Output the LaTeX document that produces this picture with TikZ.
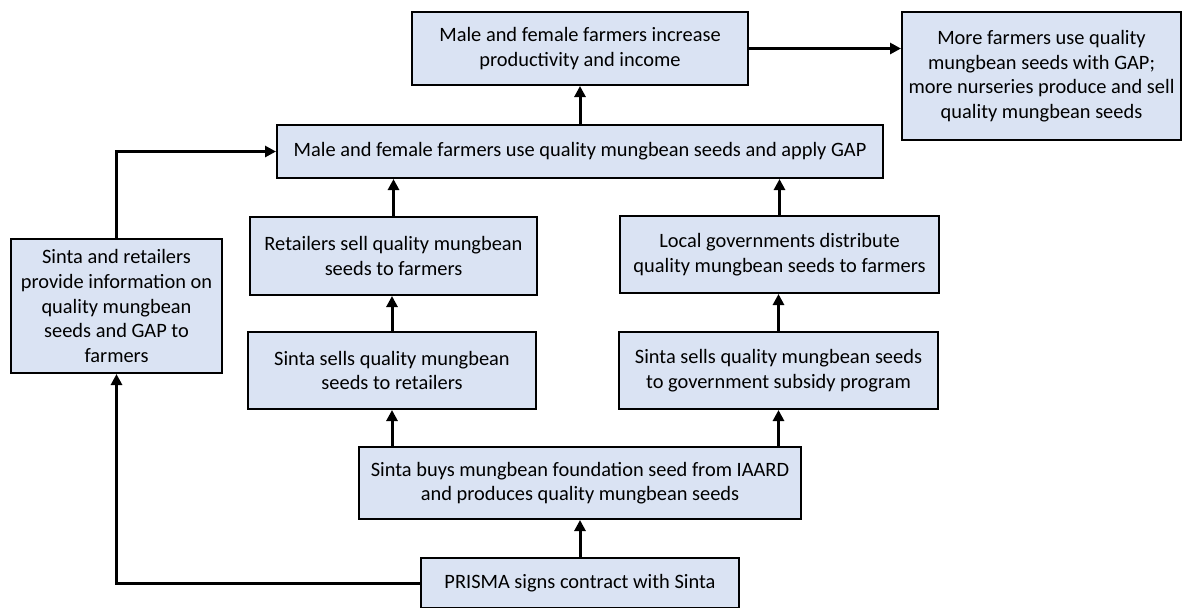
\documentclass[tikz,border=0pt]{standalone}
\usepackage{fontspec}
\setmainfont{Carlito}
\usetikzlibrary{arrows.meta,calc}
\definecolor{tcInk}{HTML}{000000}
\definecolor{tcFill}{HTML}{DAE3F3}
\tikzset{
  stage/.style ={draw=tcInk,line width=1pt,fill=tcFill,inner sep=0pt,
                 align=center,font=\fontsize{10.2pt}{12.3pt}\selectfont},
  link/.style  ={-{Triangle[length=5.5pt,width=5.5pt]},tcInk,line width=1.5pt},
}
\begin{document}
\begin{tikzpicture}[x=0.5pt,y=-0.5pt]
\useasboundingbox (0,0) rectangle (1184,607);
% outcome row
\node[stage,minimum width=168pt,minimum height=36.5pt] (incr) at (580,48.5)
  {Male and female farmers increase\\productivity and income};
\node[stage,minimum width=139.5pt,minimum height=64pt] (more) at (1041.5,76)
  {More farmers use quality\\mungbean seeds with GAP;\\more nurseries produce and sell\\quality mungbean seeds};
\node[stage,minimum width=303pt,minimum height=26.5pt] (use) at (580,151.5)
  {Male and female farmers use quality mungbean seeds and apply GAP};
% two channels
\node[stage,minimum width=143.5pt,minimum height=39pt] (retail) at (393.5,256)
  {Retailers sell quality mungbean\\seeds to farmers};
\node[stage,minimum width=159.5pt,minimum height=38.5pt] (local) at (779.5,254.5)
  {Local governments distribute\\quality mungbean seeds to farmers};
\node[stage,minimum width=144pt,minimum height=38.5pt] (sret) at (392,370.5)
  {Sinta sells quality mungbean\\seeds to retailers};
\node[stage,minimum width=159.5pt,minimum height=38.5pt] (sgov) at (778.5,370.5)
  {Sinta sells quality mungbean seeds\\to government subsidy program};
\node[stage,minimum width=105.5pt,minimum height=67pt] (info) at (116.5,306)
  {Sinta and retailers\\provide information on\\quality mungbean\\seeds and GAP to\\farmers};
% start
\node[stage,minimum width=221pt,minimum height=36pt] (buys) at (580,483)
  {Sinta buys mungbean foundation seed from IAARD\\and produces quality mungbean seeds};
\node[stage,minimum width=159pt,minimum height=25pt] (prisma) at (580,583)
  {PRISMA signs contract with Sinta};

\draw[link] (prisma.north) -- (buys.south);
\draw[link] (sret.south |- buys.north) -- (sret.south);
\draw[link] (sgov.south |- buys.north) -- (sgov.south);
\draw[link] (sret.north) -- (sret.north |- retail.south);
\draw[link] (sgov.north) -- (sgov.north |- local.south);
\draw[link] (retail.north) -- (retail.north |- use.south);
\draw[link] (local.north) -- (local.north |- use.south);
\draw[link] (use.north) -- (incr.south);
\draw[link] (incr.east) -- (incr.east -| more.west);
\draw[link] (prisma.west) -| (info.south);
\draw[link] (info.north) |- (use.west);
\end{tikzpicture}
\end{document}
